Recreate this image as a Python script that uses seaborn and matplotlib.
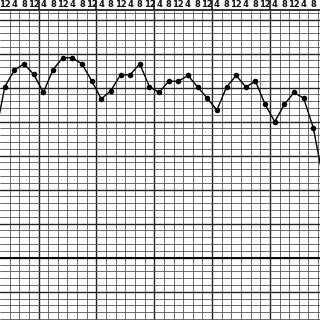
import matplotlib
matplotlib.use("Agg")
import matplotlib.pyplot as plt
import matplotlib.transforms as mtransforms
import numpy as np
import pandas as pd
import seaborn as sns

# ---- data ----
hour_labels = ["12", "4", "8"]  # repeating 4-hourly column labels
columns = list(range(-1, 34))   # 4-hourly columns (index of column)
temps = [101.58,
         103.03, 103.52, 103.70, 103.39, 102.86, 103.53, 103.88, 103.88,
         103.70, 103.21, 102.67, 102.91, 103.38, 103.38, 103.70, 103.03,
         102.86, 103.19, 103.19, 103.36, 103.02, 102.69, 102.34, 103.02,
         103.36, 103.02, 103.19, 102.51, 102.00, 102.51, 102.86, 102.69,
         101.82, 100.34]

df = pd.DataFrame({"col": [c + 0.5 for c in columns], "temp": temps})

sns.set_style("white")
plt.rcParams["font.family"] = ["DejaVu Sans"]

fig = plt.figure(figsize=(3.2, 3.2), dpi=100)
ax = fig.add_axes([0, 0, 1, 1])

n_cols = 320 / 9.64
y_top = 98 + 257.7 / 34
y_bot = 98 - 62.3 / 34
ax.set_xlim(0, n_cols)
ax.set_ylim(y_bot, y_top)

# graph-paper grid
ax.set_xticks(np.arange(4, n_cols, 6))
ax.set_xticks(np.arange(1, n_cols, 1), minor=True)
ax.set_yticks(np.arange(97, y_top, 1.0))
ax.set_yticks(np.arange(96.2, y_top, 0.2), minor=True)
ax.grid(which="minor", color="#555555", linewidth=0.6)
ax.grid(which="major", color="#222222", linewidth=1.0)
ax.tick_params(which="both", length=0, labelbottom=False, labelleft=False)
for s in ax.spines.values():
    s.set_visible(False)
ax.axhline(98.0, color="#000000", linewidth=1.4, zorder=2)

# header strip with hour labels
trans = mtransforms.blended_transform_factory(ax.transData, ax.transAxes)
ax.fill_between([0, n_cols], 1 - 9.5 / 320, 1, transform=trans, color="white", zorder=2)
ax.plot([0, n_cols], [1 - 9.5 / 320] * 2, transform=trans, color="#111111",
        linewidth=1.2, zorder=3)
for i in range(int(n_cols)):
    ax.text(i + 0.5, 1 - 4.8 / 320, hour_labels[i % 3], transform=trans,
            ha="center", va="center", fontsize=6, fontweight="bold",
            color="#111111", zorder=4)
for x in np.arange(4, n_cols, 6):
    ax.plot([x, x], [1 - 9.5 / 320, 1], transform=trans, color="#111111",
            linewidth=1.1, zorder=3)

sns.lineplot(data=df, x="col", y="temp", ax=ax, color="black", linewidth=1.0,
             marker="o", markersize=4, markeredgewidth=0, zorder=5)
ax.set_xlabel("")
ax.set_ylabel("")

fig.savefig("out.png", dpi=100)
